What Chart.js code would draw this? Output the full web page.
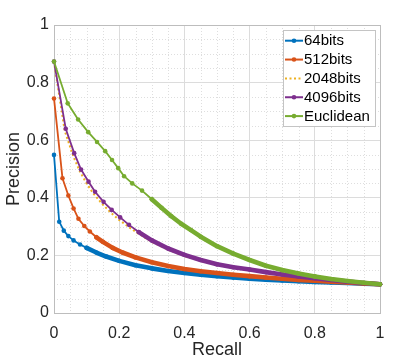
<!DOCTYPE html>
<html lang="en">
<head>
<meta charset="UTF-8">
<title>Precision-Recall</title>
<script src="https://cdn.jsdelivr.net/npm/chart.js"></script>
<style>
  html, body { margin: 0; padding: 0; background: #fff; }
</style>
</head>
<body>
<canvas id="myChart" width="419" height="361"></canvas>
<script>
// series names (legend order)
const seriesNames = ['64bits', '512bits', '2048bits', '4096bits', 'Euclidean'];

// recall / precision
const recall64 = [0, 0.016, 0.03, 0.044, 0.06, 0.08, 0.10, 0.13, 0.16, 0.20, 0.25, 0.30, 0.35, 0.40, 0.45, 0.50, 0.55, 0.60, 0.65, 0.70, 0.75, 0.80, 0.85, 0.90, 0.95, 1.0];
const prec64 = [0.549, 0.317, 0.286, 0.267, 0.252, 0.238, 0.226, 0.21, 0.196, 0.181, 0.166, 0.155, 0.146, 0.139, 0.133, 0.128, 0.123, 0.119, 0.116, 0.113, 0.110, 0.108, 0.106, 0.104, 0.102, 0.100];

const recall512 = [0, 0.026, 0.044, 0.06, 0.075, 0.093, 0.11, 0.13, 0.15, 0.18, 0.21, 0.25, 0.30, 0.35, 0.40, 0.45, 0.50, 0.55, 0.60, 0.65, 0.70, 0.75, 0.80, 0.85, 0.90, 0.95, 1.0];
const prec512 = [0.745, 0.468, 0.408, 0.363, 0.327, 0.302, 0.283, 0.263, 0.247, 0.226, 0.21, 0.193, 0.176, 0.163, 0.153, 0.145, 0.139, 0.133, 0.128, 0.123, 0.119, 0.115, 0.112, 0.109, 0.106, 0.103, 0.100];

const recall2048 = [0, 0.033, 0.06, 0.08, 0.10, 0.12, 0.15, 0.175, 0.20, 0.23, 0.26, 0.30, 0.35, 0.40, 0.45, 0.50, 0.55, 0.60, 0.65, 0.70, 0.75, 0.80, 0.85, 0.90, 0.95, 1.0];
const prec2048 = [0.873, 0.632, 0.542, 0.49, 0.45, 0.416, 0.376, 0.348, 0.323, 0.298, 0.275, 0.247, 0.22, 0.198, 0.181, 0.167, 0.157, 0.149, 0.14, 0.132, 0.125, 0.119, 0.113, 0.108, 0.104, 0.100];

const recall4096 = [0, 0.036, 0.062, 0.083, 0.106, 0.126, 0.152, 0.177, 0.203, 0.23, 0.26, 0.30, 0.35, 0.40, 0.45, 0.50, 0.55, 0.60, 0.65, 0.70, 0.75, 0.80, 0.85, 0.90, 0.95, 1.0];
const prec4096 = [0.873, 0.64, 0.555, 0.498, 0.456, 0.421, 0.386, 0.358, 0.332, 0.306, 0.281, 0.252, 0.224, 0.202, 0.184, 0.169, 0.159, 0.151, 0.142, 0.134, 0.127, 0.121, 0.115, 0.109, 0.104, 0.100];

const recallEuc = [0, 0.042, 0.074, 0.105, 0.132, 0.157, 0.178, 0.197, 0.215, 0.24, 0.27, 0.30, 0.33, 0.36, 0.39, 0.42, 0.45, 0.50, 0.55, 0.60, 0.65, 0.70, 0.75, 0.80, 0.85, 0.90, 0.95, 1.0];
const precEuc = [0.873, 0.728, 0.672, 0.628, 0.594, 0.562, 0.531, 0.503, 0.475, 0.45, 0.425, 0.395, 0.365, 0.336, 0.31, 0.288, 0.265, 0.232, 0.206, 0.184, 0.164, 0.149, 0.137, 0.127, 0.118, 0.111, 0.105, 0.100];

const xTickLabels = ['0', '0.2', '0.4', '0.6', '0.8', '1'];
const yTickLabels = ['0', '0.2', '0.4', '0.6', '0.8', '1'];

// styling
const colors = ['#0072BD', '#D95319', '#EDB120', '#7E2F8E', '#77AC30'];
const bandFrom = [0.1, 0.12, 2, 0.25, 0.3];   // where markers merge into a thick band
const textColor = '#262626';
const font = '"Liberation Sans", Arial, Helvetica, sans-serif';

function pairs(xs, ys) {
  return xs.map((x, i) => ({ x: x, y: ys[i] }));
}
const allRecall = [recall64, recall512, recall2048, recall4096, recallEuc];
const allPrec = [prec64, prec512, prec2048, prec4096, precEuc];

const datasets = seriesNames.map((name, i) => {
  const dotted = i === 2;
  return {
    label: name,
    data: pairs(allRecall[i], allPrec[i]),
    borderColor: colors[i],
    backgroundColor: colors[i],
    borderWidth: dotted ? 2 : 1.8,
    borderDash: dotted ? [2, 2.5] : [],
    borderCapStyle: dotted ? 'butt' : 'round',
    borderJoinStyle: 'round',
    pointRadius: dotted ? 0 : 2.3,
    pointBorderWidth: 0,
    pointHoverRadius: 0,
    tension: 0,
    clip: false,
    order: 4 - i,
    segment: {
      borderWidth: c => (c.p0.parsed.x >= bandFrom[i] ? 4.6 : (dotted ? 2 : 1.8))
    }
  };
});

// minor dotted grid + box frame
const frame = {
  id: 'frame',
  beforeDatasetsDraw(chart) {
    const ctx = chart.ctx, a = chart.chartArea;
    const xs = chart.scales.x, ys = chart.scales.y;
    ctx.save();
    ctx.strokeStyle = '#dedede';
    ctx.lineWidth = 1;
    ctx.setLineDash([1, 2]);
    for (let k = 1; k < 20; k++) {
      if (k % 4 === 0) continue;
      const v = k * 0.05;
      const px = Math.round(xs.getPixelForValue(v)) + 0.5;
      const py = Math.round(ys.getPixelForValue(v)) + 0.5;
      ctx.beginPath(); ctx.moveTo(px, a.top); ctx.lineTo(px, a.bottom); ctx.stroke();
      ctx.beginPath(); ctx.moveTo(a.left, py); ctx.lineTo(a.right, py); ctx.stroke();
    }
    ctx.setLineDash([]);
    ctx.strokeStyle = '#bdbdbd';
    ctx.strokeRect(Math.round(a.left) + 0.5, Math.round(a.top) + 0.5,
                   Math.round(a.right - a.left), Math.round(a.bottom - a.top));
    ctx.restore();
  },
  afterDraw(chart) {
    // legend box inside the plot, top right
    const ctx = chart.ctx, a = chart.chartArea;
    const w = 92, h = 96;
    const x0 = Math.round(a.right - 5 - w), y0 = Math.round(a.top + 5);
    ctx.save();
    ctx.fillStyle = '#fff';
    ctx.fillRect(x0, y0, w, h);
    ctx.strokeStyle = '#c4c4c4';
    ctx.lineWidth = 1;
    ctx.strokeRect(x0 + 0.5, y0 + 0.5, w, h);
    ctx.font = '15px ' + font;
    ctx.textBaseline = 'middle';
    ctx.textAlign = 'left';
    chart.data.datasets.forEach((ds, i) => {
      const y = y0 + 10.7 + i * 18.85;
      ctx.strokeStyle = ds.borderColor;
      ctx.lineWidth = 2;
      ctx.setLineDash(ds.borderDash);
      ctx.beginPath(); ctx.moveTo(x0 + 2, y); ctx.lineTo(x0 + 20, y); ctx.stroke();
      ctx.setLineDash([]);
      if (ds.pointRadius > 0) {
        ctx.fillStyle = ds.borderColor;
        ctx.beginPath(); ctx.arc(x0 + 11, y, 2.3, 0, Math.PI * 2); ctx.fill();
      }
      ctx.fillStyle = '#000';
      ctx.fillText(ds.label, x0 + 21, y + 0.5);
    });
    ctx.restore();
  }
};

const ctx = document.getElementById('myChart');
new Chart(ctx, {
  type: 'line',
  data: { datasets: datasets },
  plugins: [frame],
  options: {
    responsive: false,
    animation: false,
    events: [],
    layout: { padding: { top: 25, right: 39, left: 0, bottom: 0 } },
    plugins: { legend: { display: false }, tooltip: { enabled: false } },
    scales: {
      x: {
        type: 'linear',
        min: 0, max: 1,
        afterFit: s => { s.height = 48; },
        grid: { color: '#dcdcdc', drawTicks: false },
        border: { display: false },
        ticks: {
          stepSize: 0.2,
          padding: 11,
          maxRotation: 0,
          color: textColor,
          font: { family: font, size: 16 },
          callback: (v, i) => xTickLabels[i]
        },
        title: {
          display: true, text: 'Recall', color: textColor,
          font: { family: font, size: 18 }, padding: { top: 0, bottom: 0 }
        }
      },
      y: {
        min: 0, max: 1,
        afterFit: s => { s.width = 54; },
        grid: { color: '#dcdcdc', drawTicks: false },
        border: { display: false },
        ticks: {
          stepSize: 0.2,
          padding: 5,
          color: textColor,
          font: { family: font, size: 16 },
          callback: (v, i) => yTickLabels[i]
        },
        title: {
          display: true, text: 'Precision', color: textColor,
          font: { family: font, size: 18 }, padding: { top: 3, bottom: 0 }
        }
      }
    }
  }
});
</script>
</body>
</html>
